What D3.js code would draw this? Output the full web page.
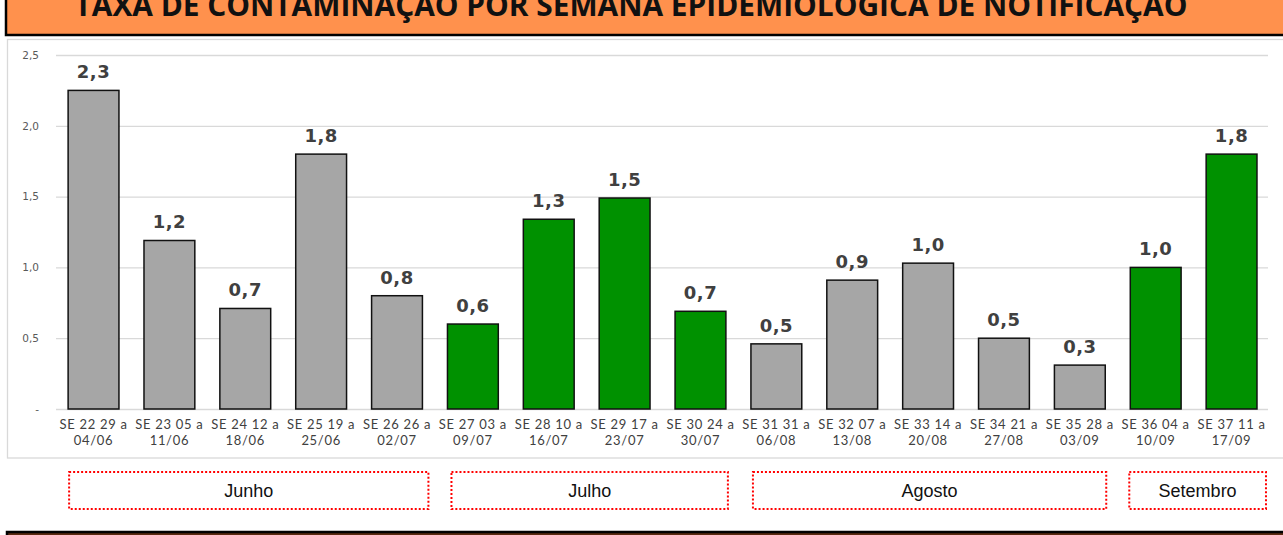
<!DOCTYPE html>
<html><head><meta charset="utf-8">
<script src="https://cdn.jsdelivr.net/npm/d3@7"></script>
<style>body{margin:0;background:#fff;}svg{display:block;}</style>
</head><body>
<svg id="c" width="1283" height="535"></svg>
<script>
const title = "TAXA DE CONTAMINAÇÃO POR SEMANA EPIDEMIOLÓGICA DE NOTIFICAÇÃO";
const categoriesLine1 = ["SE 22 29 a","SE 23 05 a","SE 24 12 a","SE 25 19 a","SE 26 26 a","SE 27 03 a","SE 28 10 a","SE 29 17 a","SE 30 24 a","SE 31 31 a","SE 32 07 a","SE 33 14 a","SE 34 21 a","SE 35 28 a","SE 36 04 a","SE 37 11 a"];
const categoriesLine2 = ["04/06","11/06","18/06","25/06","02/07","09/07","16/07","23/07","30/07","06/08","13/08","20/08","27/08","03/09","10/09","17/09"];
const values = [2.25,1.19,0.71,1.80,0.80,0.60,1.34,1.49,0.69,0.46,0.91,1.03,0.50,0.31,1.00,1.80];
const valueLabels = ["2,3","1,2","0,7","1,8","0,8","0,6","1,3","1,5","0,7","0,5","0,9","1,0","0,5","0,3","1,0","1,8"];
const highlighted = [false,false,false,false,false,true,true,true,true,false,false,false,false,false,true,true];
const yTicks = [0,0.5,1.0,1.5,2.0,2.5];
const yTickLabels = ["-","0,5","1,0","1,5","2,0","2,5"];
const months = ["Junho","Julho","Agosto","Setembro"];
const monthFirst = [0,5,9,14];
const monthLast = [4,8,13,15];

const svg = d3.select("#c");
// title banner
svg.append("rect").attr("x",6).attr("y",-5).attr("width",1290).attr("height",40)
  .attr("fill","#FF914D").attr("stroke","#000").attr("stroke-width",2.5);
svg.append("text").attr("x",631).attr("y",16).attr("text-anchor","middle")
  .attr("font-family","Open Sans").attr("font-weight","bold").attr("font-size",30)
  .attr("fill","#111").attr("textLength",1113).attr("lengthAdjust","spacingAndGlyphs").text(title);

// chart panel
svg.append("rect").attr("x",7.5).attr("y",39.5).attr("width",1290).attr("height",418.5)
  .attr("fill","#fff").attr("stroke","#d9d9d9").attr("stroke-width",1.3);

const x = d3.scaleBand().domain(d3.range(values.length)).range([55.6,1269.5]).paddingInner(0.33).paddingOuter(0.165);
const y = d3.scaleLinear().domain([0,2.5]).range([409,55]);

const g = svg.append("g");
const yAxis = d3.axisLeft(y).tickValues(yTicks).tickSize(-(1268-56)).tickFormat((d,i)=>yTickLabels[i]);
const ya = g.append("g").attr("transform","translate(56,0)").call(yAxis);
ya.select(".domain").remove();
ya.selectAll(".tick line").attr("stroke","#d9d9d9").attr("stroke-width",1.3);
ya.selectAll(".tick text").attr("x",-17).attr("font-family","DejaVu Sans").attr("font-size",10.5).attr("fill","#595959");

// bars
g.selectAll("rect.bar").data(values).join("rect").attr("class","bar")
  .attr("x",(d,i)=>x(i)).attr("width",x.bandwidth())
  .attr("y",d=>y(d)).attr("height",d=>y(0)-y(d))
  .attr("fill",(d,i)=>highlighted[i]?"#009100":"#A6A6A6")
  .attr("stroke","#111").attr("stroke-width",1.5);

// value labels
g.selectAll("text.val").data(values).join("text").attr("class","val")
  .attr("x",(d,i)=>x(i)+x.bandwidth()/2).attr("y",d=>y(d)-12)
  .attr("text-anchor","middle").attr("font-family","DejaVu Sans").attr("font-weight","bold")
  .attr("font-size",18).attr("letter-spacing",0.5).attr("fill","#404040").text((d,i)=>valueLabels[i]);

// category labels
const xa = g.append("g").attr("transform","translate(0,409)").call(d3.axisBottom(x).tickSize(0).tickFormat(()=>""));
xa.select(".domain").remove();
xa.selectAll(".tick").each(function(d){
  const t = d3.select(this).append("text").attr("text-anchor","middle")
    .attr("font-family","Lato").attr("font-size",13).attr("letter-spacing",0.7).attr("fill","#404040");
  t.append("tspan").attr("x",0).attr("y",20).text(categoriesLine1[d]);
  t.append("tspan").attr("x",0).attr("y",35.5).text(categoriesLine2[d]);
});

// month boxes
const startOff = [1,4,2,-1];
const endOff = [6,2,1,9];
months.forEach((m,i)=>{
  const x0 = x(monthFirst[i]) + startOff[i];
  const x1 = x(monthLast[i]) + x.bandwidth() + endOff[i];
  svg.append("rect").attr("x",x0).attr("y",472).attr("width",x1-x0).attr("height",37)
    .attr("fill","none").attr("stroke","#FF0000").attr("stroke-width",2).attr("stroke-dasharray","2,2");
  svg.append("text").attr("x",(x0+x1)/2).attr("y",497).attr("text-anchor","middle")
    .attr("font-family","Liberation Sans").attr("font-size",18).attr("fill","#111").text(m);
});

// bottom bar
svg.append("rect").attr("x",7).attr("y",532).attr("width",1290).attr("height",10)
  .attr("fill","#5a2a10").attr("stroke","#000").attr("stroke-width",2.5);
</script>
</body></html>
